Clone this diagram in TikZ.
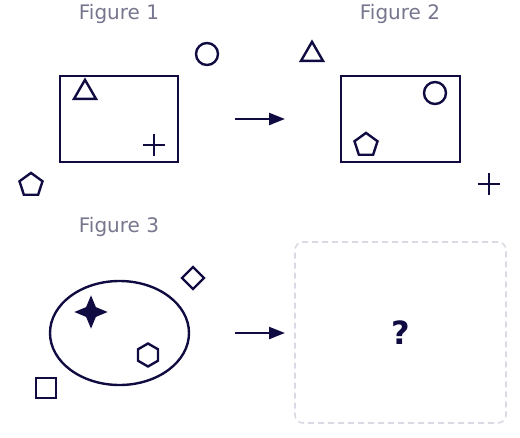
\documentclass[tikz,border=0pt]{standalone}
\usepackage{fontspec}
\setmainfont{DejaVu Sans}
\usetikzlibrary{shapes.geometric,shapes.misc,arrows.meta}
\definecolor{navy}{RGB}{16,12,66}
\definecolor{titlegray}{RGB}{118,118,142}
\definecolor{boxgray}{RGB}{218,218,228}

\begin{document}
\begin{tikzpicture}[x=1pt, y=-1pt, line width=2.4pt,
	shp/.style={draw=navy, inner sep=0pt, outer sep=0pt},
	title/.style={text=titlegray, anchor=base, font=\fontsize{20}{24}\selectfont},
	plus/.style={shp, cross out, rotate=45, minimum size=15.6}]
				\useasboundingbox (0, 0) rectangle (520, 437);
				% Figure 1
				\node[title] (F1)at(119, 19) {Figure 1};
				\node[shp, rectangle, minimum width=118, minimum height=86] (R1)at(119, 119) {};
				\node[shp, regular polygon, regular polygon sides=3, minimum size=25.4] (T1)at(85, 92.5) {};
				\node[plus] (P1)at(154, 145) {};
				\node[shp, circle, minimum size=22] (C1)at(207, 54) {};
				\node[shp, regular polygon, regular polygon sides=5, minimum size=24.2] (Q1)at(31, 185) {};
				% Figure 2
				\node[title] (F2)at(400, 19) {Figure 2};
				\node[shp, rectangle, minimum width=119, minimum height=86] (R2)at(400.5, 119) {};
				\node[shp, regular polygon, regular polygon sides=3, minimum size=25.4] (T2)at(312, 54.5) {};
				\node[plus] (P2)at(489, 184) {};
				\node[shp, circle, minimum size=22] (C2)at(435, 93) {};
				\node[shp, regular polygon, regular polygon sides=5, minimum size=24.2] (Q2)at(366, 145) {};
				% Figure 3
				\node[title] (F3)at(119, 232) {Figure 3};
				\node[shp, ellipse, minimum width=139, minimum height=104] (E3)at(119.5, 333) {};
				\node[shp, fill=navy, star, star points=4, star point ratio=2.4, minimum size=27] (S3)at(91, 312) {};
				\node[shp, regular polygon, regular polygon sides=6, shape border rotate=30, minimum size=23] (H3)at(148, 355) {};
				\node[shp, diamond, minimum width=22, minimum height=22] (D3)at(193, 278) {};
				\node[shp, rectangle, minimum size=20] (K3)at(46, 388) {};
				% answer box
				\node[draw=boxgray, line width=1.6pt, dash pattern=on 6pt off 4pt, rounded corners=8pt, minimum width=211, minimum height=181, text=navy, font=\bfseries\fontsize{32}{36}\selectfont] (X)at(400.5, 332.5) {?};
				% arrows
				\coordinate (A1)at(235, 119);
				\coordinate (B1)at(285, 119);
				\coordinate (A2)at(235, 333);
				\coordinate (B2)at(285, 333);
				\draw[->, >={Triangle[length=16pt, width=12pt]}, draw=navy, fill=navy] (A1) -- (B1);
				\draw[->, >={Triangle[length=16pt, width=12pt]}, draw=navy, fill=navy] (A2) -- (B2);
			\end{tikzpicture}
\end{document}
